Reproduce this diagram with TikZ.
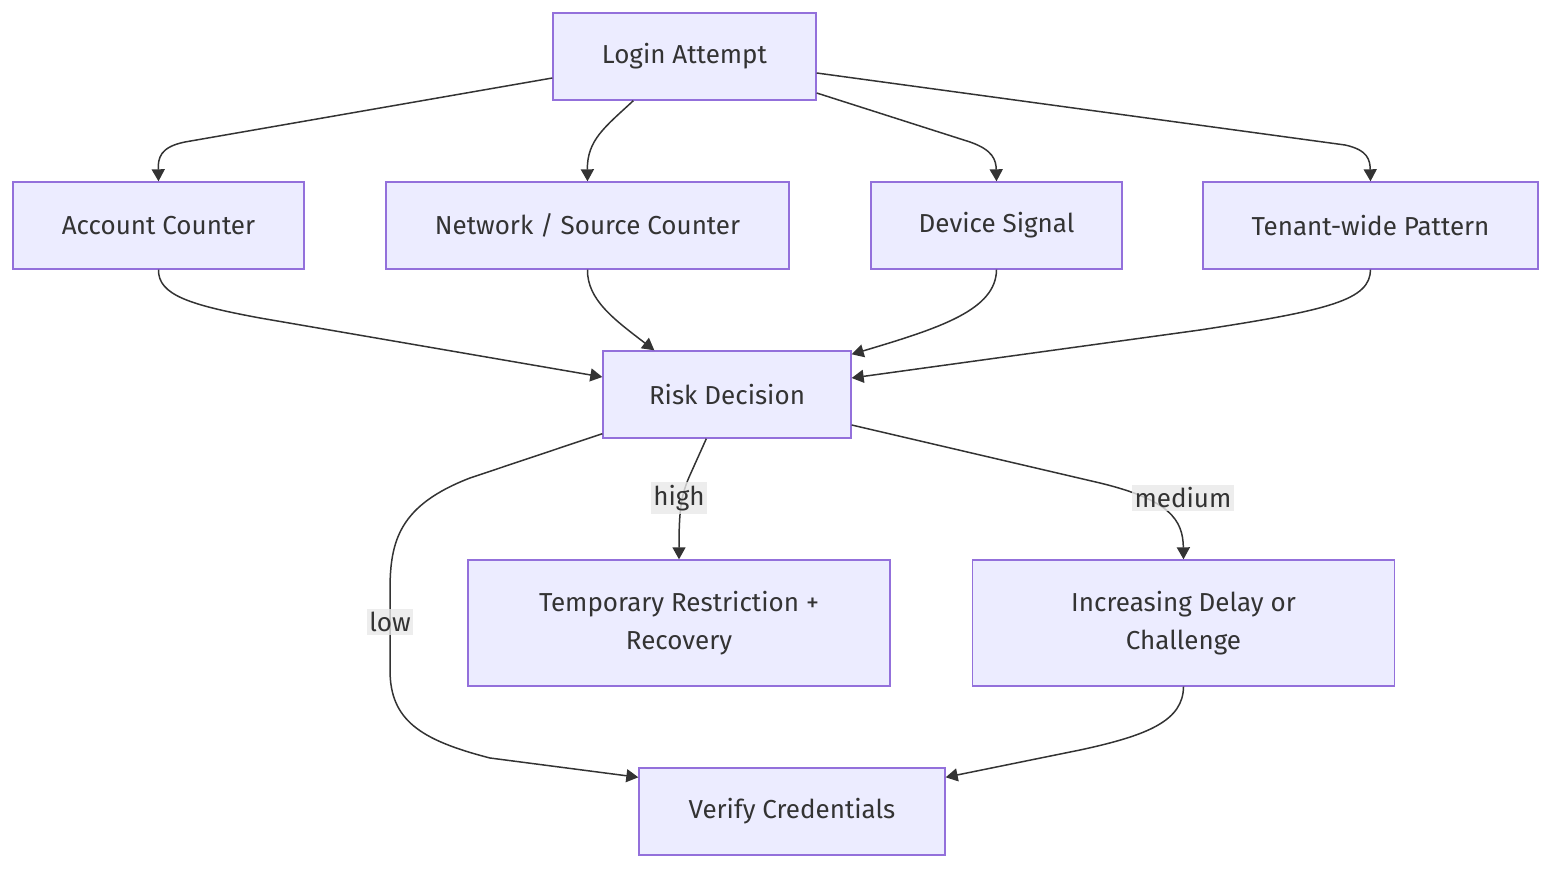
\documentclass[tikz,border=0pt]{standalone}
\usepackage{xcolor}
\usepackage{fontspec}
\setmainfont{Fira Sans}
\usepackage{tikz}
\usetikzlibrary{calc, arrows.meta}

\definecolor{boxfill}{HTML}{ECECFF}
\definecolor{boxline}{HTML}{9370DB}
\definecolor{edgeline}{HTML}{333333}
\definecolor{labelbg}{HTML}{E8E8E8}

\begin{document}
\begin{tikzpicture}[
    x=0.02cm, y=-0.02cm,
    box/.style={draw=boxline, fill=boxfill, line width=0.8pt, rectangle, align=center, minimum height=1.74cm, font=\fontsize{14.8}{21.5}\selectfont, text=edgeline},
    arrow/.style={-{Triangle[length=2.4mm, width=2.6mm]}, draw=edgeline, line width=0.85pt},
    elabel/.style={fill=labelbg, fill opacity=0.8, text opacity=1, inner sep=1.5pt, font=\fontsize{14.8}{17}\selectfont, text=edgeline}
]
    \useasboundingbox (0,0) rectangle (1568,878);

    \node (login) [box, minimum width=5.26cm] at (684.5,56.5) {Login Attempt};
    \node (acc) [box, minimum width=5.82cm] at (158.5,225.5) {Account Counter};
    \node (net) [box, minimum width=8.06cm] at (587.5,225.5) {Network / Source Counter};
    \node (dev) [box, minimum width=5.02cm] at (996.5,225.5) {Device Signal};
    \node (ten) [box, minimum width=6.70cm] at (1370.5,225.5) {Tenant-wide Pattern};
    \node (risk) [box, minimum width=4.96cm] at (727,394.5) {Risk Decision};
    \node (temp) [box, minimum width=8.44cm, minimum height=2.52cm] at (679,623) {Temporary Restriction +\\Recovery};
    \node (incr) [box, minimum width=8.44cm, minimum height=2.52cm] at (1183.5,623) {Increasing Delay or\\Challenge};
    \node (verify) [box, minimum width=6.12cm] at (792,811.5) {Verify Credentials};

    % fan out
    \draw [arrow] ($(login.west)+(0,21.5)$) -- (185,142) .. controls (160,147) and (158,158) .. (acc.north);
    \draw [arrow] ($(login.south west)+(81,0)$) .. controls (605,127) and (587,140) .. (net.north);
    \draw [arrow] ($(login.east)+(0,36.5)$) -- (970,142) .. controls (993,150) and (996,160) .. (dev.north);
    \draw [arrow] ($(login.east)+(0,16.5)$) -- (1345,145) .. controls (1368,150) and (1370,160) .. (ten.north);

    % fan in
    \draw [arrow] (acc.south) .. controls (158,295) and (190,305) .. (260,318) -- ($(risk.west)+(0,-17.5)$);
    \draw [arrow] (net.south) .. controls (587,300) and (615,320) .. ($(risk.north west)+(52,0)$);
    \draw [arrow] (dev.south) .. controls (996,310) and (940,328) .. ($(risk.north east)+(0,4)$);
    \draw [arrow] (ten.south) .. controls (1370,300) and (1330,310) .. (1200,330) -- ($(risk.east)+(0,-16.5)$);

    % decisions
    \draw [arrow] ($(risk.south west)+(0,-5)$) -- (470,478) .. controls (400,505) and (390,540) .. (390,590) -- (390,670) .. controls (390,720) and (420,740) .. (490,758) -- ($(verify.north west)+(0,10)$);
    \draw [arrow] ($(risk.south west)+(104,0)$) -- (690,475) .. controls (681,495) and (679,510) .. (temp.north);
    \draw [arrow] ($(risk.east)+(0,30.5)$) -- (1100,483) .. controls (1170,500) and (1183,520) .. (incr.north);
    \draw [arrow] (incr.south) .. controls (1183,720) and (1150,735) .. (1080,750) -- ($(verify.north east)+(0,10)$);

    \node (lhigh) [elabel] at (679,498) {high};
    \node (lmed) [elabel] at (1183,498) {medium};
    \node (llow) [elabel] at (390,622) {low};
\end{tikzpicture}
\end{document}
